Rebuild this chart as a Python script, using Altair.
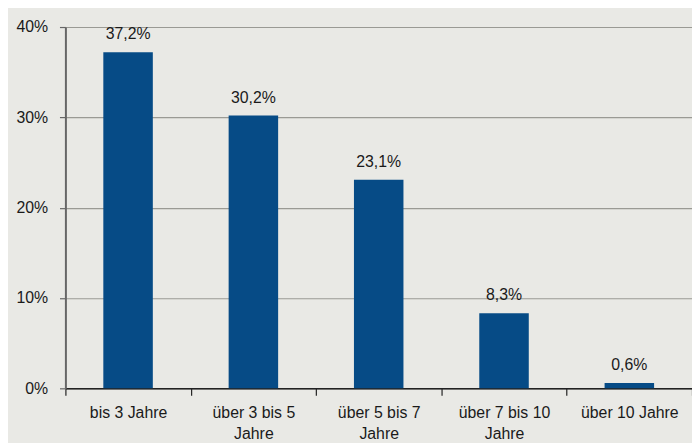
import altair as alt
import pandas as pd

categories = ["bis 3 Jahre", "über 3 bis 5 Jahre", "über 5 bis 7 Jahre", "über 7 bis 10 Jahre", "über 10 Jahre"]
values = [37.2, 30.2, 23.1, 8.3, 0.6]
y_ticks = [0, 10, 20, 30, 40]

df = pd.DataFrame({"cat": categories, "val": values})

FONT = "Liberation Sans"
BAR = "#064b86"
BG = "#e9e9e5"

x = alt.X(
    "cat:N",
    sort=categories,
    title=None,
    scale=alt.Scale(paddingInner=0, paddingOuter=0),
    axis=alt.Axis(
        labelAngle=0,
        labelFont=FONT,
        labelFontSize=16,
        labelColor="#1a1a1a",
        labelLineHeight=22,
        labelPadding=9,
        labelExpr="indexof(datum.label, ' bis ') > 0 ? [replace(datum.label, ' Jahre', ''), 'Jahre'] : datum.label",
        domainColor="#222222",
        domainWidth=1.5,
        tickColor="#222222",
        tickWidth=1.2,
        tickSize=7,
        tickBand="extent",
        grid=False,
    ),
)

y = alt.Y(
    "val:Q",
    title=None,
    scale=alt.Scale(domain=[0, 40], nice=False),
    axis=alt.Axis(
        values=y_ticks,
        labelExpr="datum.value + '%'",
        labelFont=FONT,
        labelFontSize=16,
        labelColor="#1a1a1a",
        labelPadding=12,
        domainColor="#666666",
        domainWidth=2,
        tickColor="#666666",
        tickWidth=1.2,
        tickSize=6,
        grid=True,
        gridColor="#9a9a94",
        gridWidth=1.2,
    ),
)

bars = alt.Chart(df).mark_bar(color=BAR, width=alt.RelativeBandSize(0.395)).encode(x=x, y=y)

labels = alt.Chart(df).transform_calculate(
    lab="replace(format(datum.val, '.1f'), '.', ',') + '%'"
).mark_text(
    font=FONT, fontSize=16, color="#1a1a1a", baseline="alphabetic", dy=-13
).encode(x=alt.X("cat:N", sort=categories), y="val:Q", text="lab:N")

chart = (
    alt.layer(bars, labels)
    .properties(
        width=633,
        height=365,
        background=BG,
        padding={"left": 58, "top": 17, "right": 0, "bottom": 53},
        autosize=alt.AutoSizeParams(type="none"),
    )
    .configure_view(stroke=None)
)

chart.save("out.html", embed_options={"renderer": "svg", "actions": False})
